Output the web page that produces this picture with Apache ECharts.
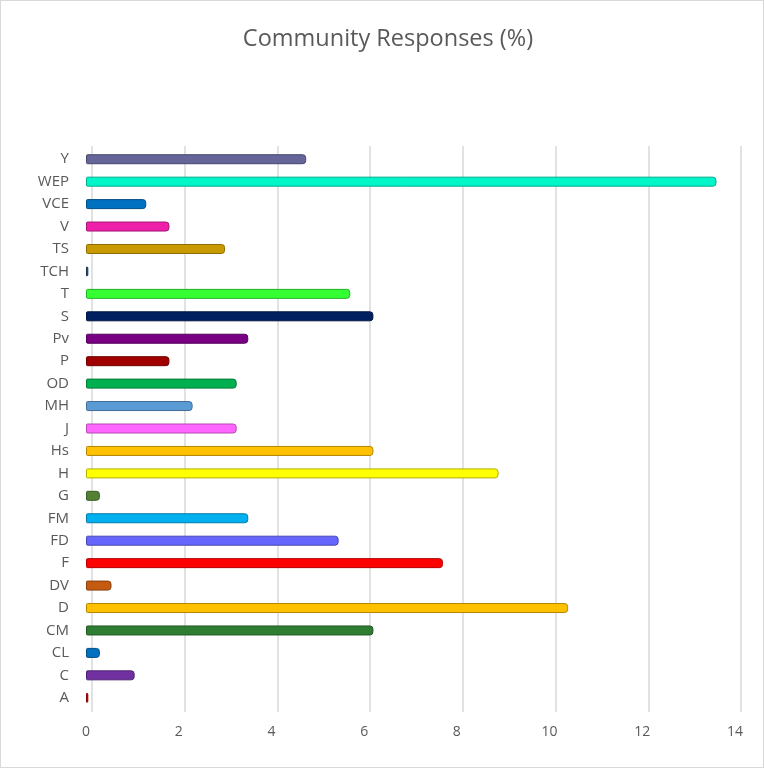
<!DOCTYPE html>
<html>
<head>
<meta charset="utf-8">
<script src="https://cdn.jsdelivr.net/npm/echarts@6/dist/echarts.min.js"></script>
<style>
  html, body { margin: 0; padding: 0; background: #fff; }
  #chart { width: 764px; height: 768px; box-sizing: border-box; border: 1px solid #d9d9d9; }
</style>
</head>
<body>
<div id="chart"></div>
<script>
// Response codes, bottom to top
const categories = ['A','C','CL','CM','D','DV','F','FD','FM','G','H','Hs','J','MH','OD','P','Pv','S','T','TCH','TS','V','VCE','WEP','Y'];
// Share of community responses (%)
const values = [0.05, 1.05, 0.3, 6.2, 10.4, 0.55, 7.7, 5.45, 3.5, 0.3, 8.9, 6.2, 3.25, 2.3, 3.25, 1.8, 3.5, 6.2, 5.7, 0.05, 3.0, 1.8, 1.3, 13.6, 4.75];
const barColors = ['#c00000','#7030a0','#0070c0','#2e7d32','#ffc000','#c55a11','#ff0000','#6666ff','#00b0f0','#548235','#ffff00','#ffc000','#ff66ff','#5b9bd5','#00b050','#a00000','#7a0083','#002060','#33ff33','#1f4e79','#c89a00','#ee1fa8','#0070c0','#00f5c8','#65659a'];
const xTicks = [0, 2, 4, 6, 8, 10, 12, 14];

function darken(hex, f) {
  const n = parseInt(hex.slice(1), 16);
  const r = Math.round(((n >> 16) & 255) * f);
  const g = Math.round(((n >> 8) & 255) * f);
  const b = Math.round((n & 255) * f);
  return 'rgb(' + r + ',' + g + ',' + b + ')';
}

const font = '"Open Sans", sans-serif';
const chart = echarts.init(document.getElementById('chart'), null, { renderer: 'canvas' });

const xMin = xTicks[0], xMax = xTicks[xTicks.length - 1], xStep = xTicks[1] - xTicks[0];

chart.setOption({
  animation: false,
  title: {
    text: 'Community Responses (%)',
    left: 382,
    top: 21,
    textAlign: 'center',
    textStyle: { fontFamily: font, fontSize: 23.5, fontWeight: 'normal', color: '#595959' }
  },
  grid: [
    { left: 85, right: 28, top: 147, bottom: 58, containLabel: false },
    { left: 91, right: 22, top: 145, bottom: 55, containLabel: false }
  ],
  xAxis: [
    {
      type: 'value', gridIndex: 0, min: xMin, max: xMax, interval: xStep,
      axisLine: { show: false }, axisTick: { show: false }, splitLine: { show: false },
      axisLabel: { color: '#595959', fontFamily: font, fontSize: 14, margin: 16 }
    },
    {
      type: 'value', gridIndex: 1, min: xMin, max: xMax, interval: xStep,
      axisLine: { show: false }, axisTick: { show: false }, axisLabel: { show: false },
      splitLine: { show: true, lineStyle: { color: '#d9d9d9', width: 1.5 } }
    }
  ],
  yAxis: [
    {
      type: 'category', gridIndex: 0, data: categories,
      axisLine: { show: false }, axisTick: { show: false },
      axisLabel: { color: '#595959', fontFamily: font, fontSize: 15, margin: 17 }
    },
    {
      type: 'category', gridIndex: 1, data: categories, show: false
    }
  ],
  series: [{
    type: 'bar',
    xAxisIndex: 0, yAxisIndex: 0,
    barWidth: 10,
    z: 5,
    data: values.map((v, i) => ({
      value: v,
      itemStyle: {
        color: barColors[i],
        borderColor: darken(barColors[i], 0.7),
        borderWidth: 1,
        borderRadius: [1, 3, 3, 1]
      }
    }))
  }]
});
</script>
</body>
</html>
